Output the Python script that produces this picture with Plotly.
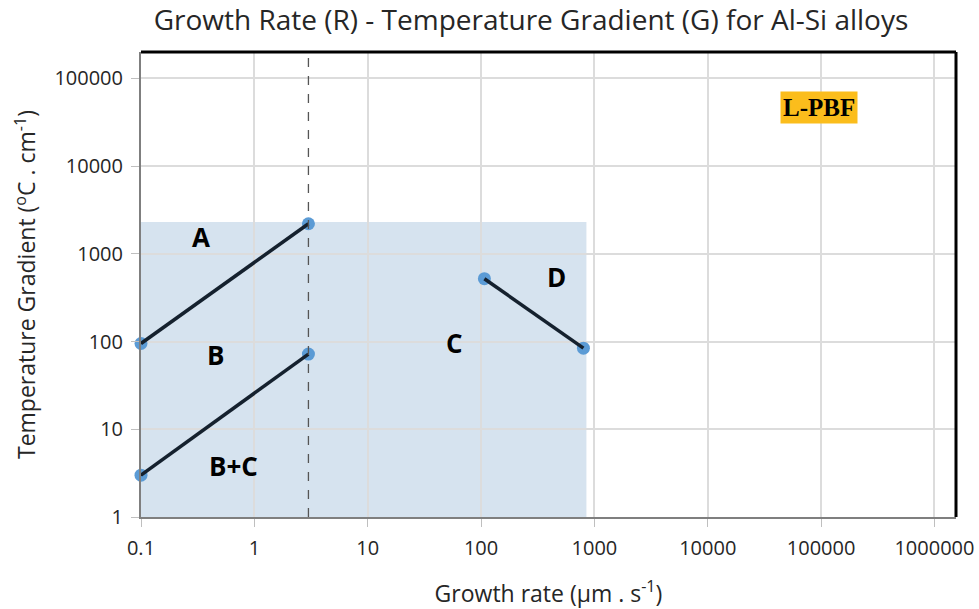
import plotly.graph_objects as go
import numpy as np

# Data
seg_A_x = [0.1, 3.0]
seg_A_y = [95, 2200]
seg_BC_x = [0.1, 3.0]
seg_BC_y = [3.0, 72]
seg_D_x = [107, 800]
seg_D_y = [520, 84]

region_x = [0.1, 850]
region_y = [1, 2300]
dashed_x = 3.0

label_text = ["A", "B", "B+C", "C", "D"]
label_x = [0.34, 0.45, 0.65, 58, 460]
label_y = [1550, 70, 3.8, 96, 540]

x_ticks = [0.1, 1, 10, 100, 1000, 10000, 100000, 1000000]
x_ticktext = ["0.1", "1", "10", "100", "1000", "10000", "100000", "1000000"]
y_ticks = [1, 10, 100, 1000, 10000, 100000]
y_ticktext = ["1", "10", "100", "1000", "10000", "100000"]

FONT = "Open Sans"
fig = go.Figure()

# shaded region
fig.add_shape(type="rect", xref="x", yref="y",
              x0=region_x[0], x1=region_x[1], y0=region_y[0], y1=region_y[1],
              fillcolor="rgba(197,215,232,0.7)", line_width=0, layer="below")
# dashed line
fig.add_shape(type="line", xref="x", yref="paper", x0=dashed_x, x1=dashed_x, y0=0, y1=1,
              line=dict(color="#555555", width=1.3, dash="dash"))

segs = [(seg_A_x, seg_A_y), (seg_BC_x, seg_BC_y), (seg_D_x, seg_D_y)]
for xs, ys in segs:
    fig.add_trace(go.Scatter(x=xs, y=ys, mode="markers",
                             marker=dict(color="#5b9bd5", size=13),
                             showlegend=False, cliponaxis=False))
for xs, ys in segs:
    fig.add_trace(go.Scatter(x=xs, y=ys, mode="lines",
                             line=dict(color="#15212e", width=3.5),
                             showlegend=False, cliponaxis=False, hoverinfo="skip"))

for t, x, y in zip(label_text, label_x, label_y):
    fig.add_annotation(x=np.log10(x), y=np.log10(y), text="<b>%s</b>" % t, showarrow=False,
                       font=dict(family=FONT, size=26, color="black"))

fig.add_annotation(x=np.log10(95000), y=np.log10(47000), text="<b>L-PBF</b>", showarrow=False,
                   font=dict(family="Liberation Serif", size=25, color="black"),
                   bgcolor="#fbbd1c", borderpad=2)

# frame top/right
fig.add_shape(type="line", xref="paper", yref="paper", x0=0, x1=1, y0=1, y1=1,
              line=dict(color="black", width=3))
fig.add_shape(type="line", xref="paper", yref="paper", x0=1, x1=1, y0=0, y1=1,
              line=dict(color="black", width=3))

axis_common = dict(type="log", showgrid=True, gridcolor="#dcdcdc", gridwidth=1.5,
                   showline=True, linecolor="#7f7f7f", linewidth=2,
                   ticks="outside", ticklen=8, tickcolor="#bfbfbf",
                   tickfont=dict(family=FONT, size=20, color="#262626"),
                   zeroline=False, automargin=False)

fig.update_xaxes(range=[-1, 6.19], tickvals=x_ticks, ticktext=x_ticktext,
                 ticklabelstandoff=4,
                 title=dict(text="Growth rate (µm . s<sup>-1</sup>)",
                            font=dict(family=FONT, size=23, color="#262626"), standoff=28),
                 **axis_common)
fig.update_yaxes(range=[0, 5.3], tickvals=y_ticks, ticktext=y_ticktext,
                 ticklabelstandoff=4,
                 title=dict(text="Temperature Gradient (<sup>o</sup>C . cm<sup>-1</sup>)",
                            font=dict(family=FONT, size=23, color="#262626"), standoff=12),
                 **axis_common)

fig.update_layout(
    width=979, height=609,
    margin=dict(l=141, r=23, t=52, b=92),
    plot_bgcolor="white", paper_bgcolor="white",
    title=dict(text="Growth Rate (R) - Temperature Gradient (G) for Al-Si alloys",
               x=531 / 979, xanchor="center", y=1 - 20 / 609, yanchor="middle",
               font=dict(family=FONT, size=28, color="#262626")),
    showlegend=False,
)

fig.write_html("out.html")
